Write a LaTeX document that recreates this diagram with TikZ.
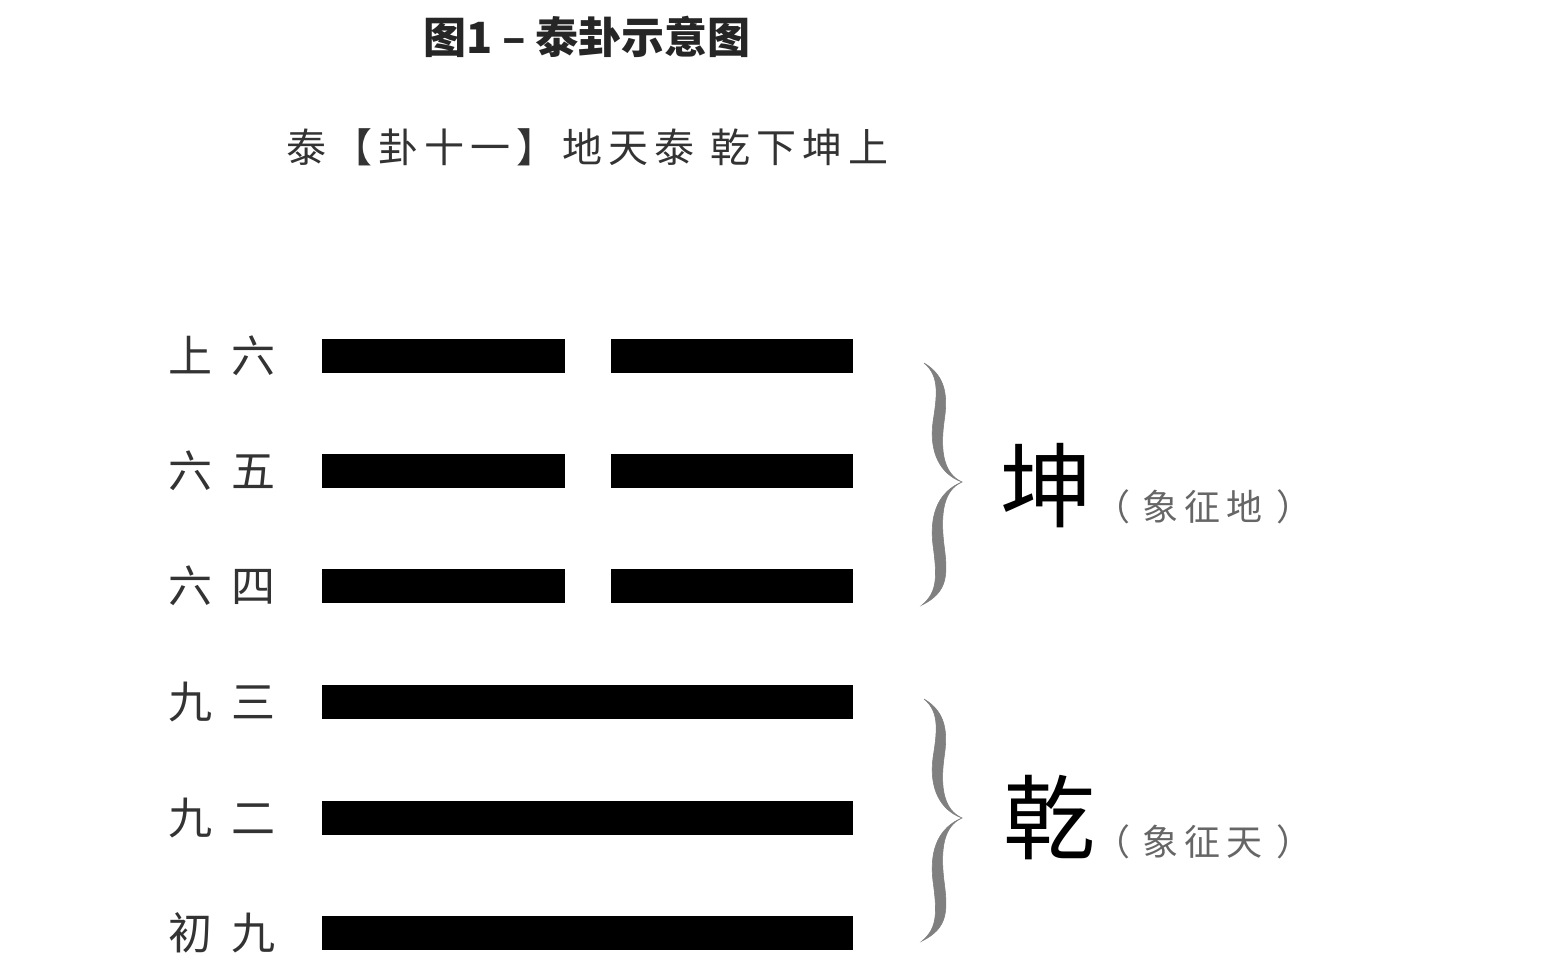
\documentclass[tikz,border=0pt]{standalone}
\usepackage{fontspec}
\newfontfamily\cjk{Noto Sans CJK SC}
\newcommand{\ks}{\kern3pt}
\begin{document}
\begin{tikzpicture}[x=0.5pt,y=-0.5pt,
  bar/.style={fill=black,draw=none},
  lbl/.style={font=\cjk\fontsize{22}{24}\selectfont,text=black!80,inner sep=0pt,anchor=center},
  big/.style={font=\cjk\fontsize{46}{48}\selectfont,text=black,inner sep=0pt},
  sym/.style={font=\cjk\fontsize{18}{20}\selectfont,text=black!60,inner sep=0pt,anchor=west},
  bracefill/.style={fill=black!50,draw=black!50,line width=0.3pt}]
\useasboundingbox (0,0) rectangle (1552,970);
\fill[white] (0,0) rectangle (1552,970);
% title
\node[font=\cjk\bfseries\fontsize{21.5}{24}\selectfont,text=black!85,inner sep=0pt] (title) at (587,37) {图1 – 泰卦示意图};
\node[font=\cjk\fontsize{20}{22}\selectfont,text=black!80,inner sep=0pt] (sub) at (587,147) {泰\ks{}【\ks{}卦\ks{}十\ks{}一\ks{}】\ks{}地\ks{}天\ks{}泰\hspace{8pt}乾\ks{}下\ks{}坤\ks{}上};
% lines
\foreach \n/\y/\t in {6/356/上\hspace{10pt}六,5/471/六\hspace{10pt}五,4/586/六\hspace{10pt}四}{
  \node[lbl] (l\n) at (222,\y) {\t};
  \fill[bar] (322,\y-17) rectangle (565,\y+17);
  \fill[bar] (611,\y-17) rectangle (853,\y+17);
}
\foreach \n/\y/\t in {3/702/九\hspace{10pt}三,2/818/九\hspace{10pt}二,1/933/初\hspace{10pt}九}{
  \node[lbl] (l\n) at (222,\y) {\t};
  \fill[bar] (322,\y-17) rectangle (853,\y+17);
}
% braces
\foreach \t in {0,336}{
\begin{scope}[yshift=-\t*0.5pt]
\fill[bracefill] (924,363) .. controls (940,376) and (937,396) .. (933,422)
  .. controls (929,452) and (940,474) .. (962,482)
  .. controls (940,491) and (929,512) .. (933,545)
  .. controls (937,575) and (938,592) .. (922,605)
  .. controls (948,592) and (948,575) .. (944,545)
  .. controls (940,512) and (944,490) .. (962,482)
  .. controls (944,474) and (940,452) .. (944,422)
  .. controls (948,396) and (946,376) .. (924,363) -- cycle;
\end{scope}}
% trigram names
\node[big] (kun) at (1046,486) {坤};
\node[sym] (kunsym) at (1094,507) {（\hspace{6pt}象\kern3pt{}征\kern3pt{}地\hspace{7pt}）};
\node[big] (qian) at (1049,818) {乾};
\node[sym] (qiansym) at (1094,842) {（\hspace{6pt}象\kern3pt{}征\kern3pt{}天\hspace{7pt}）};
\end{tikzpicture}
\end{document}
